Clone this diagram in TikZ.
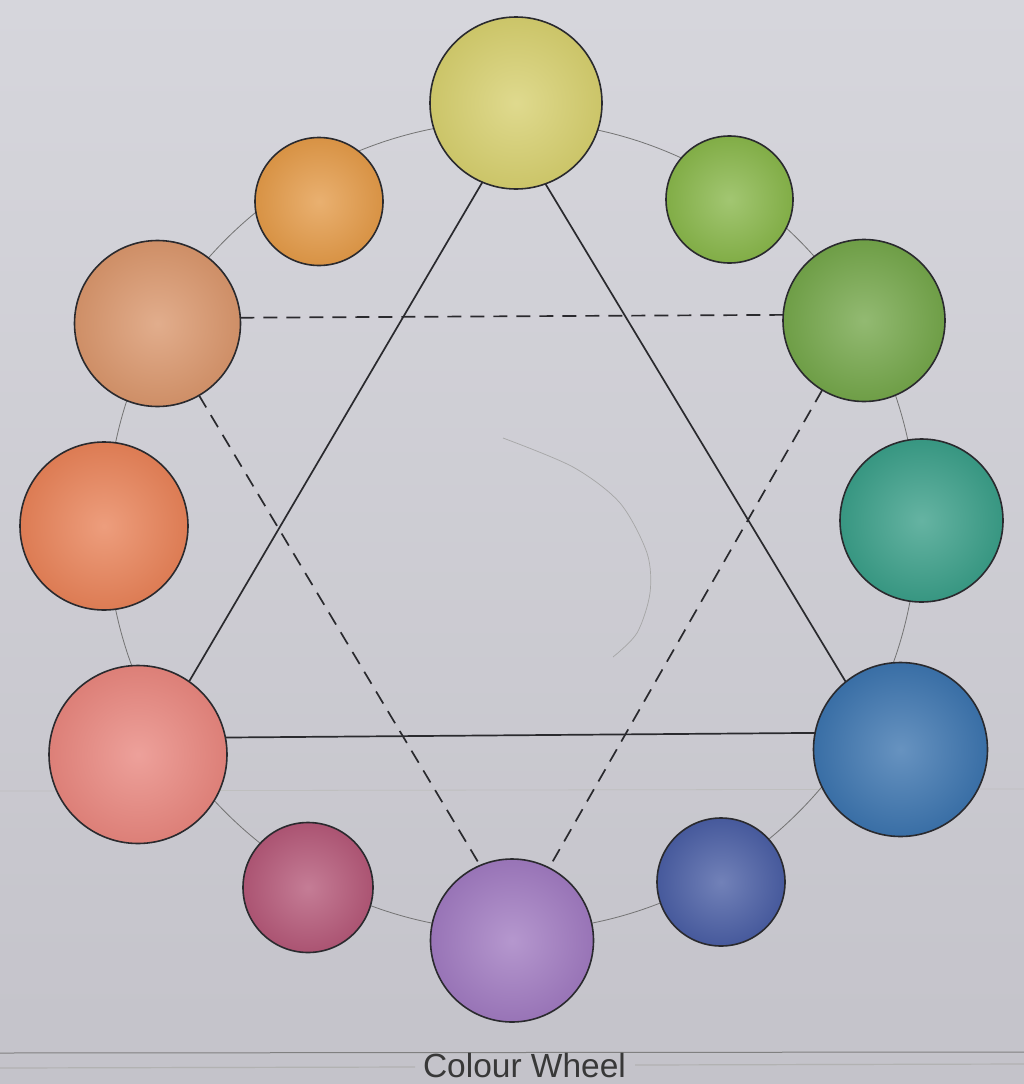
\documentclass[tikz,border=0pt]{standalone}
\usepackage{fontspec}
\newfontfamily\capfont{Liberation Sans}
\definecolor{paperT}{HTML}{D6D6DC}
\definecolor{paperB}{HTML}{C4C3CA}
\definecolor{cY}{HTML}{D6CF6E}
\definecolor{cYG}{HTML}{88B64A}
\definecolor{cG}{HTML}{74A64A}
\definecolor{cT}{HTML}{3A9E88}
\definecolor{cB}{HTML}{3C74AE}
\definecolor{cBV}{HTML}{4A5EA4}
\definecolor{cV}{HTML}{A07AC0}
\definecolor{cRV}{HTML}{B45878}
\definecolor{cR}{HTML}{E8867E}
\definecolor{cRO}{HTML}{E88258}
\definecolor{cO}{HTML}{D9966C}
\definecolor{cYO}{HTML}{E39A48}
\definecolor{ink}{HTML}{2A2A2E}
\tikzset{
  cball/.style n args={2}{circle, draw=ink, line width=1.6pt, inner sep=0pt, outer sep=0pt,
    minimum size=#1, inner color=#2!78!white, outer color=#2!95!black},
  solidlink/.style={draw=ink, line width=1.7pt},
  dashlink/.style={draw=ink, line width=1.7pt, dash pattern=on 14pt off 9pt},
  ring/.style={draw=black!55, line width=0.8pt},
  faint/.style={draw=black!35, line width=0.7pt}
}
\begin{document}
\begin{tikzpicture}[x=1pt,y=-1pt]
\shade[top color=paperT, bottom color=paperB] (0,0) rectangle (1024,1084);
\useasboundingbox (0,0) rectangle (1024,1084);
% paper fold and bottom rules
\draw[black!25, line width=0.8pt] (0,791) -- (1024,789);
\draw[black!50, line width=1pt] (0,1053) -- (1024,1052);
\draw[black!30, line width=1.2pt] (0,1068) -- (415,1067);
\draw[black!30, line width=1.2pt] (635,1065) -- (1024,1064);
% the wheel's ring
\draw[ring] (512,526) circle [radius=405];
% stray pencil curve
\draw[faint] plot[smooth] coordinates {(503,438) (573,467) (620,503) (647,553) (650,593) (637,633) (613,657)};
% colour balls
\node[cball={172pt}{cY}]  (yellow)      at (516,103) {};
\node[cball={127pt}{cYG}] (yellowgreen) at (729.5,199.5) {};
\node[cball={162pt}{cG}]  (green)       at (864,320.5) {};
\node[cball={163pt}{cT}]  (teal)        at (921.5,520.5) {};
\node[cball={174pt}{cB}]  (blue)        at (900.5,749.5) {};
\node[cball={128pt}{cBV}] (blueviolet)  at (721,882) {};
\node[cball={163pt}{cV}]  (violet)      at (512,940.5) {};
\node[cball={130pt}{cRV}] (redviolet)   at (308,887.5) {};
\node[cball={178pt}{cR}]  (red)         at (138,754.5) {};
\node[cball={168pt}{cRO}] (redorange)   at (104,526) {};
\node[cball={166pt}{cO}]  (orange)      at (157.5,323.5) {};
\node[cball={128pt}{cYO}] (yelloworange) at (319,201.5) {};
% primary triangle (solid)
\draw[solidlink] (yellow.247.7) -- (red.55.1);
\draw[solidlink] (yellow.290.3) -- (blue.129.6);
\draw[solidlink] (red.11.3) -- (blue.169);
% secondary triangle (dashed)
\draw[dashlink] (orange.4.7) -- (green.176.8);
\draw[dashlink] (orange.-60.2) -- (violet.113.7);
\draw[dashlink] (green.239.9) -- (violet.63.6);
% caption
\node[anchor=base, text=black!78, inner sep=0pt] (caption) at (524.5,1077)
  {\capfont\fontsize{33.5}{40}\selectfont Colour Wheel};
\end{tikzpicture}
\end{document}
